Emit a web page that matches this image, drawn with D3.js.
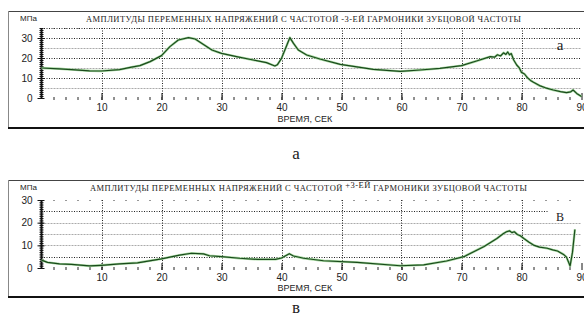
<!DOCTYPE html>
<html>
<head>
<meta charset="utf-8">
<script src="https://cdn.jsdelivr.net/npm/d3@7"></script>
<style>
  body { margin: 0; background: #fff; }
  svg { display: block; }
</style>
</head>
<body>
<svg id="chart"></svg>
<script>
// amplitude of -3rd harmonic (panel а)
const timeA = [0, 3, 5, 8, 10, 13, 15, 16.4, 18.1, 20, 21.4, 22.8, 24.5, 25.6, 27, 28.4, 30, 32.5, 35.3, 37.5, 38.9, 39.3, 40, 40.9, 41.4, 42, 42.8, 44.2, 46.4, 49.8, 55.3, 59.8, 63.1, 66.4, 70, 72.5, 74.8, 75.5, 76, 76.5, 77, 77.4, 77.7, 78, 78.3, 78.7, 79.2, 79.6, 80, 80.5, 81, 81.5, 82, 83, 84, 85.3, 86.5, 87.5, 88.2, 88.6, 89.2, 90]
const ampA  = [15, 14.6, 14.2, 13.6, 13.5, 14.2, 15.4, 16.2, 18.2, 21.2, 25.7, 29, 30.2, 29.5, 26.8, 24, 22.3, 20.7, 19, 17.7, 16, 16.6, 19.8, 26.5, 30.2, 27.3, 24, 21.5, 19.5, 16.8, 14.3, 13.3, 14, 14.8, 16.2, 18.5, 20.7, 20.4, 21.6, 21, 22.6, 21.8, 23, 21.6, 22.2, 19, 16.5, 15.2, 12.8, 12, 10.1, 8.8, 7.9, 6.2, 5.1, 4, 3.2, 2.7, 3.1, 4, 2.3, 0.7]

// amplitude of +3rd harmonic (panel в)
const timeB = [0, 1, 3, 5, 8, 10, 13, 16, 20, 23, 25, 27, 28, 30, 33, 36, 39, 40, 41.3, 42, 43.7, 47, 52.6, 59.8, 63.7, 67.5, 70.4, 73.7, 75.9, 77, 77.5, 78, 78.4, 78.8, 79.3, 79.8, 80.4, 81.2, 82, 83, 84.3, 85.2, 86, 87, 87.5, 88.1, 88.5, 88.9]
const ampB  = [3.5, 2.5, 1.8, 1.6, 0.9, 1.2, 1.8, 2.3, 4, 5.7, 6.5, 6.2, 5.4, 5, 4.3, 3.8, 3.8, 4.4, 6.3, 5.3, 4.3, 3.2, 2.5, 1, 1.4, 3.1, 5, 9.4, 13, 15.2, 16, 16.4, 15.6, 16, 14.8, 14.2, 13, 11.5, 10.1, 9.2, 8.7, 8, 7.5, 6, 4.8, 0.9, 7, 17]

const xTicks = [10, 20, 30, 40, 50, 60, 70, 80, 90]
const yTicksA = [0, 10, 20, 30]
const yTicksB = [0, 10, 20, 30]
const titleA = ['АМПЛИТУДЫ ПЕРЕМЕННЫХ НАПРЯЖЕНИЙ С ЧАСТОТОЙ ', '-3-ЕЙ', ' ГАРМОНИКИ ЗУБЦОВОЙ ЧАСТОТЫ']
const titleB = ['АМПЛИТУДЫ ПЕРЕМЕННЫХ НАПРЯЖЕНИЙ С ЧАСТОТОЙ ', '+3-ЕЙ', ' ГАРМОНИКИ ЗУБЦОВОЙ ЧАСТОТЫ']

const width = 584
const height = 323

const svg = d3.select('svg#chart')
  .attr('width', width)
  .attr('height', height)
  .attr('viewBox', `0 0 ${width} ${height}`)

const sans = 'Liberation Sans, Arial, sans-serif'
const serif = 'Liberation Serif, Times New Roman, serif'

function panel(opts) {
  const {top, bottom, plotTop, zeroY, yMax, time, amp, yTicks, title, tag, tagY, titleY, titleX, titleLen, xlabY, gridDark, gridLight} = opts
  const g = svg.append('g')

  // frame
  g.append('line').attr('x1', 8).attr('x2', width).attr('y1', top + 0.5).attr('y2', top + 0.5)
    .attr('stroke', '#444').attr('stroke-width', 1)
  g.append('line').attr('x1', 8.5).attr('x2', 8.5).attr('y1', top).attr('y2', bottom)
    .attr('stroke', '#888').attr('stroke-width', 1)
  g.append('line').attr('x1', 8).attr('x2', width).attr('y1', bottom).attr('y2', bottom)
    .attr('stroke', '#111').attr('stroke-width', 2)

  const x = d3.scaleLinear().domain([0, 90]).range([41.5, 581.5])
  const y = d3.scaleLinear().domain([0, yMax]).range([zeroY, plotTop])

  // horizontal grid
  g.append('g').selectAll('line').data(gridDark).join('line')
    .attr('x1', x(0)).attr('x2', d => d.end ? x(d.end) : x(90))
    .attr('y1', d => Math.round(y(d.v)) + 0.5).attr('y2', d => Math.round(y(d.v)) + 0.5)
    .attr('stroke', '#222').attr('stroke-width', 1).attr('stroke-dasharray', '1,1.5')
  g.append('g').selectAll('line').data(gridLight).join('line')
    .attr('x1', x(0)).attr('x2', x(90))
    .attr('y1', d => Math.round(y(d)) + 0.5).attr('y2', d => Math.round(y(d)) + 0.5)
    .attr('stroke', '#aaa').attr('stroke-width', 1).attr('stroke-dasharray', '2,1')

  // vertical grid
  g.append('g').selectAll('line').data(xTicks.filter(t => t < 90)).join('line')
    .attr('x1', d => Math.round(x(d)) + 0.5).attr('x2', d => Math.round(x(d)) + 0.5)
    .attr('y1', plotTop).attr('y2', zeroY)
    .attr('stroke', '#222').attr('stroke-width', 1).attr('stroke-dasharray', '1,1.5')

  // x axis: small dots every 2 s, tick + label every 10 s
  const xAxisG = g.append('g').attr('transform', `translate(0,${zeroY})`)
  xAxisG.call(d3.axisBottom(x).tickValues(d3.range(2, 90, 2)).tickSize(2).tickFormat(''))
  xAxisG.select('.domain').remove()
  xAxisG.selectAll('.tick line').attr('stroke', '#222').attr('y1', -1)
  const xMajor = g.append('g').attr('transform', `translate(0,${zeroY})`)
    .call(d3.axisBottom(x).tickValues(xTicks).tickSize(4).tickPadding(2))
  xMajor.select('.domain').remove()
  xMajor.selectAll('.tick line').attr('stroke', '#111').attr('y1', -5).attr('y2', 2)
  xMajor.selectAll('.tick text').attr('font-family', sans).attr('font-size', 10).attr('fill', '#222')

  // top dotted tick row (panel upper edge)
  const topRow = g.append('g').attr('transform', `translate(0,${plotTop})`)
    .call(d3.axisTop(x).tickValues(d3.range(2, 90, 2)).tickSize(1).tickFormat(''))
  topRow.select('.domain').remove()
  topRow.selectAll('.tick line').attr('stroke', '#333').attr('y2', 1)

  // y axis: thick line, dense minor ticks, labels every 10
  const yMinor = g.append('g').attr('transform', `translate(${x(0)},0)`)
    .call(d3.axisLeft(y).tickValues(d3.range(0, yMax + 0.01, 1)).tickSize(2).tickFormat(''))
  yMinor.select('.domain').attr('stroke', '#111').attr('stroke-width', 2).attr('d', `M0,${zeroY}V${plotTop}`)
  yMinor.selectAll('.tick line').attr('stroke', '#111').attr('x1', 2).attr('x2', -2)
  const yMajor = g.append('g').attr('transform', `translate(${x(0)},0)`)
    .call(d3.axisLeft(y).tickValues(yTicks).tickSize(4).tickPadding(5))
  yMajor.select('.domain').remove()
  yMajor.selectAll('.tick line').attr('stroke', '#111').attr('x2', -4).attr('x1', 3)
  yMajor.selectAll('.tick text').attr('font-family', sans).attr('font-size', 10).attr('fill', '#222')

  // curve
  const line = d3.line().x((d, i) => x(time[i])).y(d => y(d))
  g.append('path').datum(amp).attr('d', line)
    .attr('fill', 'none').attr('stroke', '#a6d8a0').attr('stroke-width', 2.4).attr('stroke-linejoin', 'round')
  g.append('path').datum(amp).attr('d', line)
    .attr('fill', 'none').attr('stroke', '#1a4a1c').attr('stroke-width', 1.2).attr('stroke-linejoin', 'round')

  // texts
  g.append('text').attr('x', 20).attr('y', titleY).text('МПа')
    .attr('font-family', sans).attr('font-size', 8).attr('fill', '#222')
  const t = g.append('text').attr('x', titleX).attr('y', titleY + 1)
    .attr('font-family', serif).attr('font-size', 8.5).attr('fill', '#222')
    .attr('textLength', titleLen).attr('lengthAdjust', 'spacing')
  t.append('tspan').text(title[0])
  t.append('tspan').attr('dy', tag === 'В' ? -3 : 0).text(title[1])
  t.append('tspan').attr('dy', tag === 'В' ? 3 : 0).text(title[2])

  g.append('text').attr('x', 305).attr('y', xlabY).attr('text-anchor', 'middle').text('ВРЕМЯ, СЕК')
    .attr('font-family', sans).attr('font-size', 9).attr('fill', '#222')

  g.append('text').attr('x', 560).attr('y', tagY).attr('text-anchor', 'middle').text(tag)
    .attr('font-family', serif).attr('font-size', tag === 'В' ? 12 : 15).attr('fill', '#222')
}

panel({
  top: 11, bottom: 128, plotTop: 28, zeroY: 98, yMax: 35,
  time: timeA, amp: ampA, yTicks: yTicksA, title: titleA, tag: 'a', tagY: 50,
  titleY: 21, titleX: 86, titleLen: 435, xlabY: 122,
  gridDark: [{v: 35}, {v: 30}, {v: 20}, {v: 10}], gridLight: [25, 15, 5]
})

panel({
  top: 180, bottom: 297, plotTop: 200, zeroY: 268, yMax: 30,
  time: timeB, amp: ampB, yTicks: yTicksB, title: titleB, tag: 'В', tagY: 221,
  titleY: 190, titleX: 90, titleLen: 437, xlabY: 291,
  gridDark: [{v: 25, end: 84.5}, {v: 5}], gridLight: [20, 15, 10]
})

// captions under panels
svg.append('text').attr('x', 296).attr('y', 159).attr('text-anchor', 'middle').text('а')
  .attr('font-family', serif).attr('font-size', 17).attr('fill', '#222')
svg.append('text').attr('x', 296).attr('y', 313).attr('text-anchor', 'middle').text('в')
  .attr('font-family', serif).attr('font-size', 17).attr('fill', '#222')
</script>
</body>
</html>
